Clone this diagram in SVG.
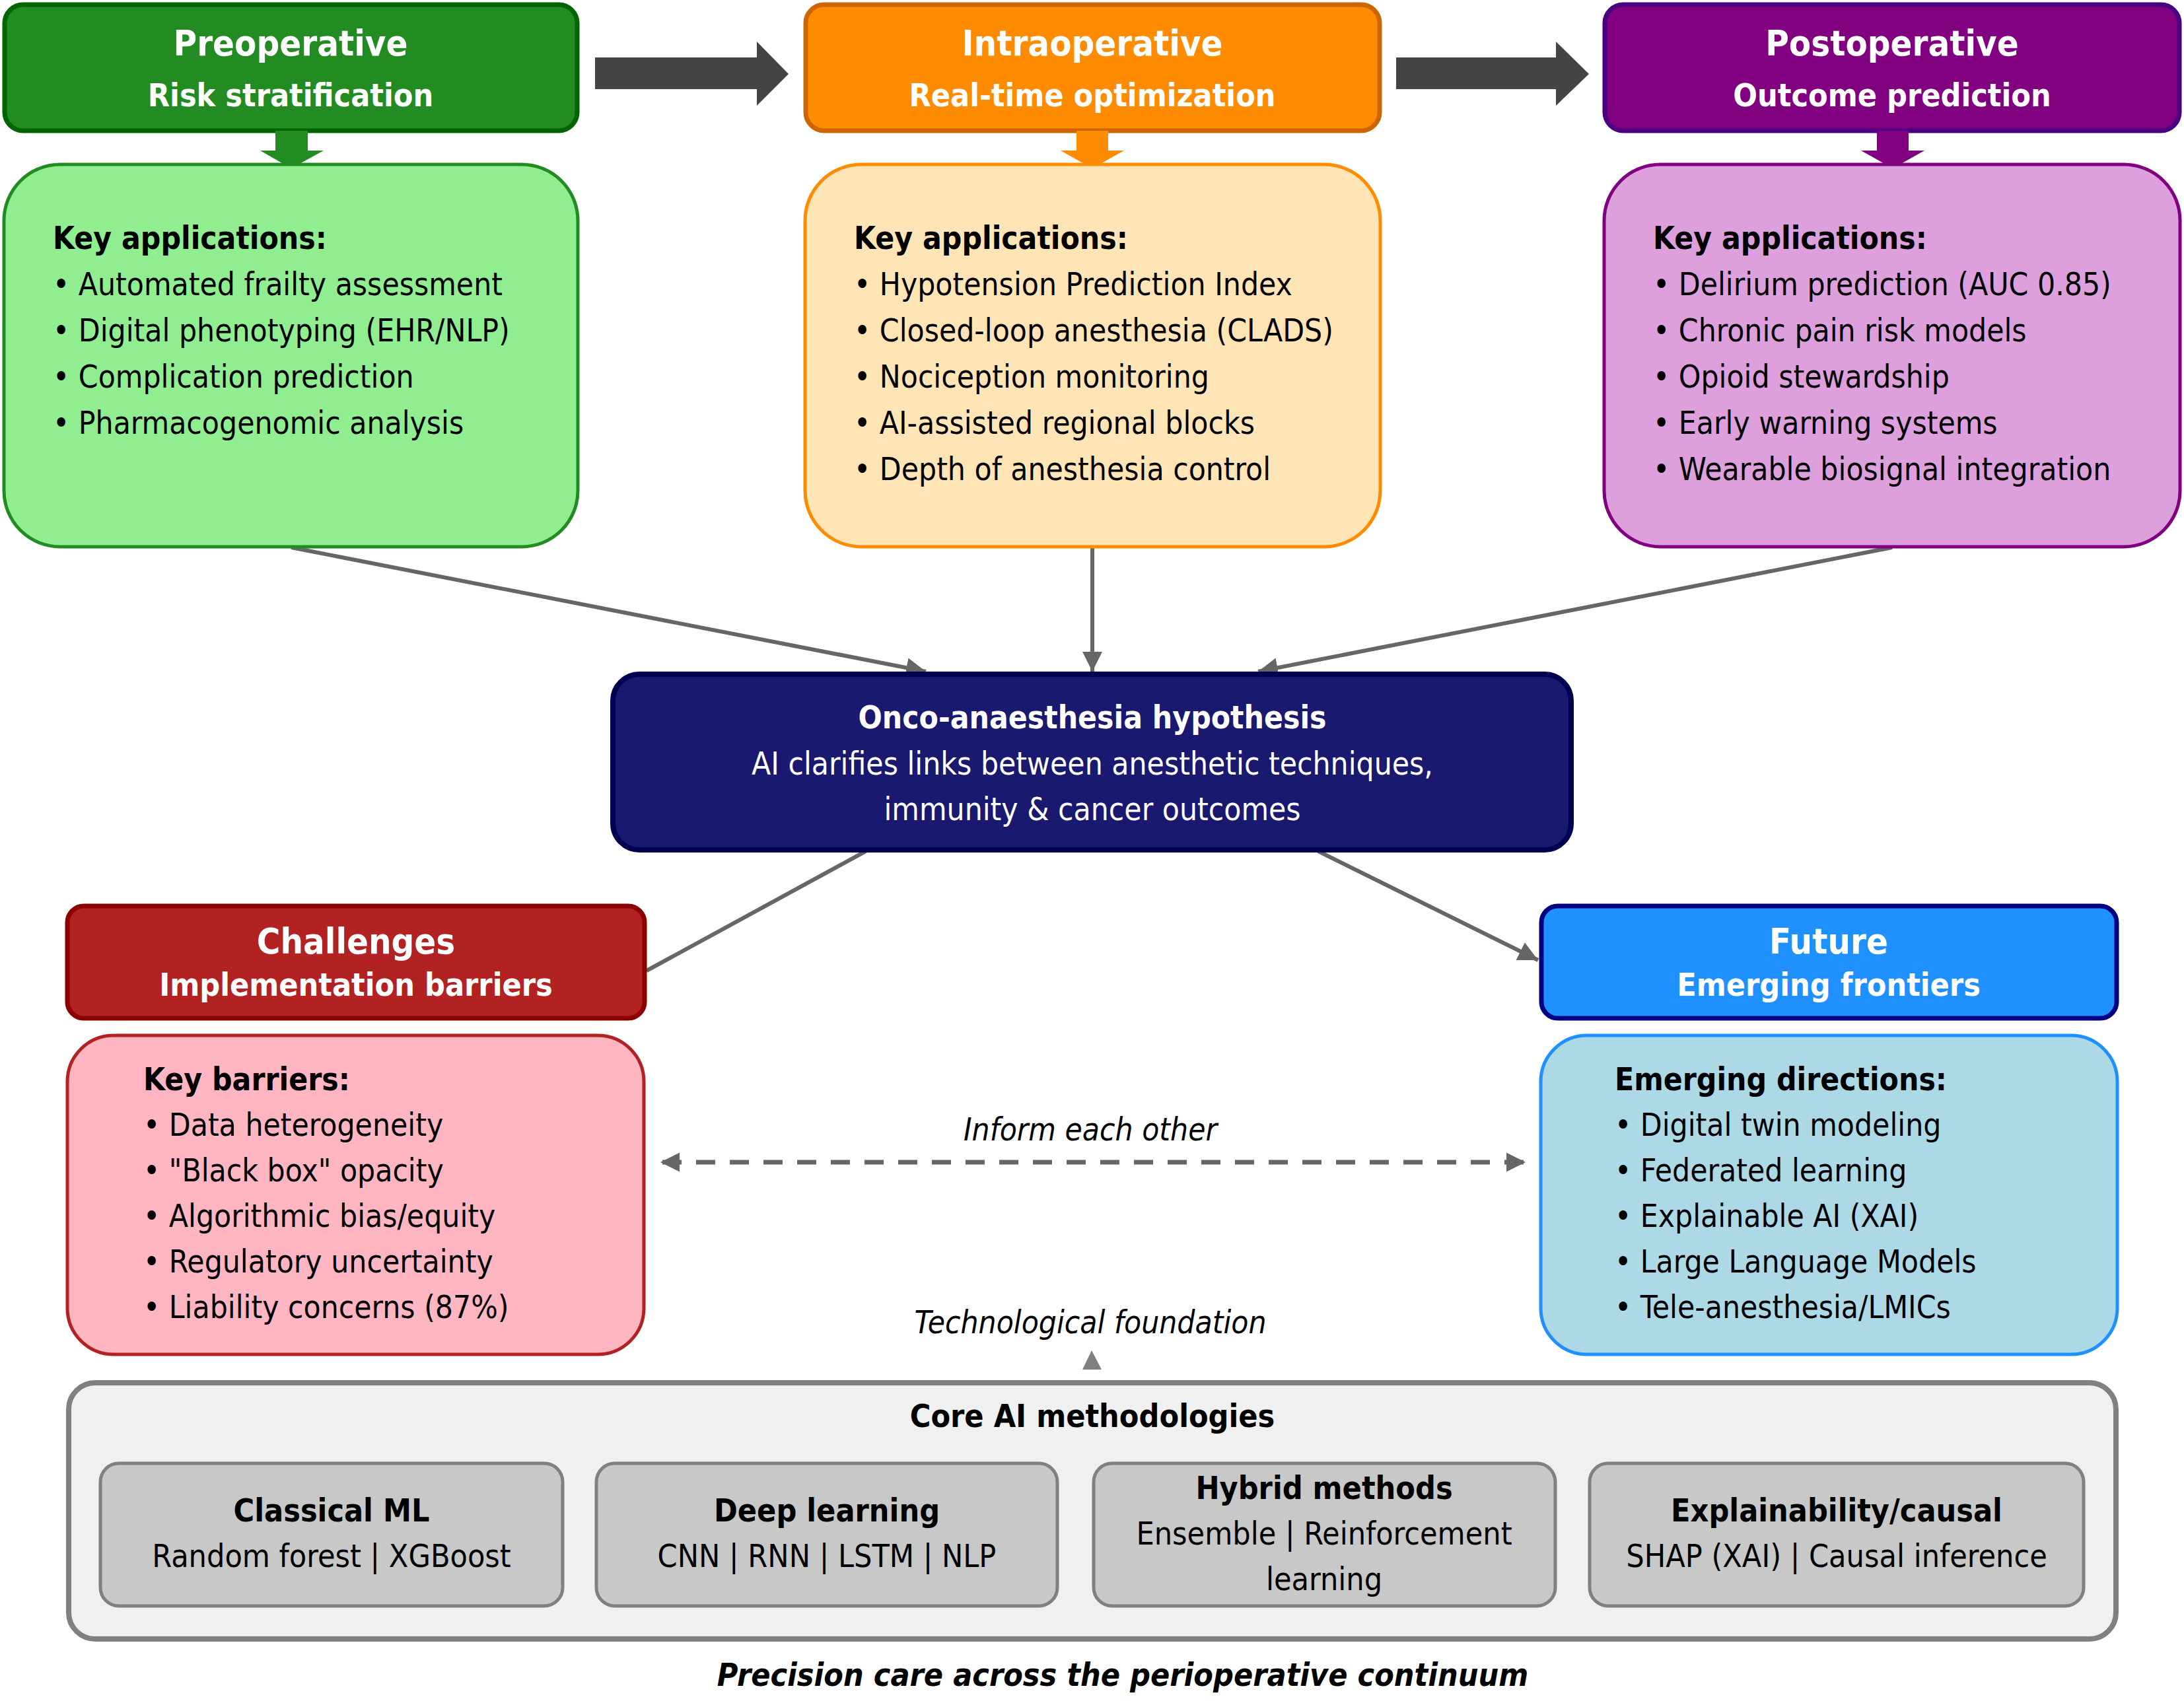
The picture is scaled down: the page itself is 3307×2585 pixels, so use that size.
<svg xmlns="http://www.w3.org/2000/svg" width="3307" height="2585" viewBox="0 0 3307 2585">
<style>
text{font-family:"DejaVu Sans Condensed","DejaVu Sans",sans-serif;font-stretch:condensed}
.t{font-weight:bold;fill:#fff;text-anchor:middle;font-size:54px}
.s{font-weight:bold;fill:#fff;text-anchor:middle;font-size:48px}
.h{font-weight:bold;fill:#000;font-size:47.5px}
.b{fill:#000;font-size:47.5px}
.c{fill:#fff;text-anchor:middle;font-size:47.5px}
.cb{font-weight:bold;fill:#fff;text-anchor:middle;font-size:47.5px}
.m{fill:#000;text-anchor:middle;font-size:48px}
.mb{font-weight:bold;fill:#000;text-anchor:middle;font-size:48px}
.i{font-style:italic;fill:#000;text-anchor:middle;font-size:47.5px}
.conn{stroke:#666;stroke-width:6;fill:none}
</style>
<defs>
<marker id="ah" viewBox="0 0 10 10" refX="10" refY="5" markerWidth="30" markerHeight="30" markerUnits="userSpaceOnUse" orient="auto-start-reverse">
<path d="M0,0 L10,5 L0,10 z" fill="#666"/>
</marker>
<marker id="ahd" viewBox="0 0 10 10" refX="10" refY="5" markerWidth="29" markerHeight="30" markerUnits="userSpaceOnUse" orient="auto-start-reverse">
<path d="M0,0 L10,5 L0,10 z" fill="#666"/>
</marker>
</defs>
<rect width="3307" height="2585" fill="#fff"/>

<g id="flow-arrows">
<polygon points="901,87 1146,87 1146,63 1194,112 1146,160 1146,135 901,135" fill="#444"/>
<polygon points="2114,87 2356,87 2356,63 2406,112 2356,160 2356,135 2114,135" fill="#444"/>
</g>

<g id="connectors">
<line class="conn" x1="441" y1="829" x2="1402" y2="1017" marker-end="url(#ah)"/>
<line class="conn" x1="1654" y1="829" x2="1654" y2="1017" marker-end="url(#ah)"/>
<line class="conn" x1="2865" y1="829" x2="1905" y2="1017" marker-end="url(#ah)"/>
<line class="conn" x1="1311" y1="1289" x2="979" y2="1470"/>
<line class="conn" x1="1996" y1="1289" x2="2329" y2="1454" marker-end="url(#ah)"/>
<line x1="1000" y1="1760" x2="2310" y2="1760" stroke="#666" stroke-width="7" stroke-dasharray="29,22" stroke-dashoffset="-3" marker-start="url(#ahd)" marker-end="url(#ahd)"/>
<polygon points="1653,2045 1639,2074 1668,2074" fill="#808080"/>
</g>

<g id="preoperative">
<rect x="7" y="7" width="867" height="191" rx="28" fill="#228B22" stroke="#006400" stroke-width="7"/>
<text class="t" x="440" y="84">Preoperative</text>
<text class="s" x="440" y="161">Risk stratification</text>
<polygon points="417,198 466,198 466,228 490,228 441,255 394,228 417,228" fill="#228B22"/>
<rect x="6" y="249" width="869" height="579" rx="85" fill="#90EE90" stroke="#228B22" stroke-width="5"/>
<text class="h" x="80" y="377">Key applications:</text>
<text class="b" x="80" y="447">• Automated frailty assessment</text>
<text class="b" x="80" y="517">• Digital phenotyping (EHR/NLP)</text>
<text class="b" x="80" y="587">• Complication prediction</text>
<text class="b" x="80" y="657">• Pharmacogenomic analysis</text>
</g>

<g id="intraoperative">
<rect x="1220" y="7" width="869" height="191" rx="28" fill="#FF8C00" stroke="#CC6600" stroke-width="7"/>
<text class="t" x="1654" y="84">Intraoperative</text>
<text class="s" x="1654" y="161">Real-time optimization</text>
<polygon points="1630,198 1678,198 1678,228 1702,228 1654,255 1606,228 1630,228" fill="#FF8C00"/>
<rect x="1219" y="249" width="871" height="579" rx="85" fill="#FFE4B5" stroke="#FF8C00" stroke-width="5"/>
<text class="h" x="1293" y="377">Key applications:</text>
<text class="b" x="1293" y="447">• Hypotension Prediction Index</text>
<text class="b" x="1293" y="517">• Closed-loop anesthesia (CLADS)</text>
<text class="b" x="1293" y="587">• Nociception monitoring</text>
<text class="b" x="1293" y="657">• AI-assisted regional blocks</text>
<text class="b" x="1293" y="727">• Depth of anesthesia control</text>
</g>

<g id="postoperative">
<rect x="2430" y="7" width="870" height="191" rx="28" fill="#800080" stroke="#4B0082" stroke-width="7"/>
<text class="t" x="2865" y="84">Postoperative</text>
<text class="s" x="2865" y="161">Outcome prediction</text>
<polygon points="2842,198 2890,198 2890,228 2914,228 2866,255 2818,228 2842,228" fill="#800080"/>
<rect x="2429" y="249" width="872" height="579" rx="85" fill="#DDA0DD" stroke="#800080" stroke-width="5"/>
<text class="h" x="2503" y="377">Key applications:</text>
<text class="b" x="2503" y="447">• Delirium prediction (AUC 0.85)</text>
<text class="b" x="2503" y="517">• Chronic pain risk models</text>
<text class="b" x="2503" y="587">• Opioid stewardship</text>
<text class="b" x="2503" y="657">• Early warning systems</text>
<text class="b" x="2503" y="727">• Wearable biosignal integration</text>
</g>

<g id="hypothesis">
<rect x="928" y="1021" width="1451" height="266" rx="40" fill="#191970" stroke="#000050" stroke-width="8"/>
<text class="cb" x="1654" y="1103">Onco-anaesthesia hypothesis</text>
<text class="c" x="1654" y="1173">AI clarifies links between anesthetic techniques,</text>
<text class="c" x="1654" y="1242">immunity &amp; cancer outcomes</text>
</g>

<g id="challenges">
<rect x="102" y="1372" width="874" height="170" rx="25" fill="#B22222" stroke="#8B0000" stroke-width="7"/>
<text class="t" x="539" y="1444">Challenges</text>
<text class="s" x="539" y="1508">Implementation barriers</text>
<rect x="102" y="1568" width="873" height="483" rx="70" fill="#FFB6C1" stroke="#B22222" stroke-width="5"/>
<text class="h" x="217" y="1651">Key barriers:</text>
<text class="b" x="217" y="1720">• Data heterogeneity</text>
<text class="b" x="217" y="1789">• "Black box" opacity</text>
<text class="b" x="217" y="1858">• Algorithmic bias/equity</text>
<text class="b" x="217" y="1927">• Regulatory uncertainty</text>
<text class="b" x="217" y="1996">• Liability concerns (87%)</text>
</g>

<g id="future">
<rect x="2334" y="1372" width="871" height="170" rx="25" fill="#1E90FF" stroke="#000080" stroke-width="7"/>
<text class="t" x="2769" y="1444">Future</text>
<text class="s" x="2769" y="1508">Emerging frontiers</text>
<rect x="2333" y="1568" width="873" height="483" rx="70" fill="#ADD8E6" stroke="#1E90FF" stroke-width="5"/>
<text class="h" x="2445" y="1651">Emerging directions:</text>
<text class="b" x="2445" y="1720">• Digital twin modeling</text>
<text class="b" x="2445" y="1789">• Federated learning</text>
<text class="b" x="2445" y="1858">• Explainable AI (XAI)</text>
<text class="b" x="2445" y="1927">• Large Language Models</text>
<text class="b" x="2445" y="1996">• Tele-anesthesia/LMICs</text>
</g>

<g id="labels">
<text class="i" x="1651" y="1727">Inform each other</text>
<text class="i" x="1651" y="2019">Technological foundation</text>
</g>

<g id="core">
<rect x="104" y="2094" width="3100" height="388" rx="40" fill="#F0F0F0" stroke="#808080" stroke-width="8"/>
<text class="mb" x="1654" y="2161">Core AI methodologies</text>
</g>
<g id="classical-ml">
<rect x="152" y="2216" width="700" height="216" rx="28" fill="#C8C8C8" stroke="#808080" stroke-width="5"/>
<text class="mb" x="502" y="2304">Classical ML</text>
<text class="m" x="502" y="2373">Random forest | XGBoost</text>
</g>
<g id="deep-learning">
<rect x="903" y="2216" width="698" height="216" rx="28" fill="#C8C8C8" stroke="#808080" stroke-width="5"/>
<text class="mb" x="1252" y="2304">Deep learning</text>
<text class="m" x="1252" y="2373">CNN | RNN | LSTM | NLP</text>
</g>
<g id="hybrid-methods">
<rect x="1656" y="2216" width="699" height="216" rx="28" fill="#C8C8C8" stroke="#808080" stroke-width="5"/>
<text class="mb" x="2005" y="2270">Hybrid methods</text>
<text class="m" x="2005" y="2339">Ensemble | Reinforcement</text>
<text class="m" x="2005" y="2408">learning</text>
</g>
<g id="explainability">
<rect x="2407" y="2216" width="748" height="216" rx="28" fill="#C8C8C8" stroke="#808080" stroke-width="5"/>
<text class="mb" x="2781" y="2304">Explainability/causal</text>
<text class="m" x="2781" y="2373">SHAP (XAI) | Causal inference</text>
</g>

<text x="1700" y="2553" text-anchor="middle" font-size="48" font-weight="bold" font-style="italic" fill="#000">Precision care across the perioperative continuum</text>
</svg>
